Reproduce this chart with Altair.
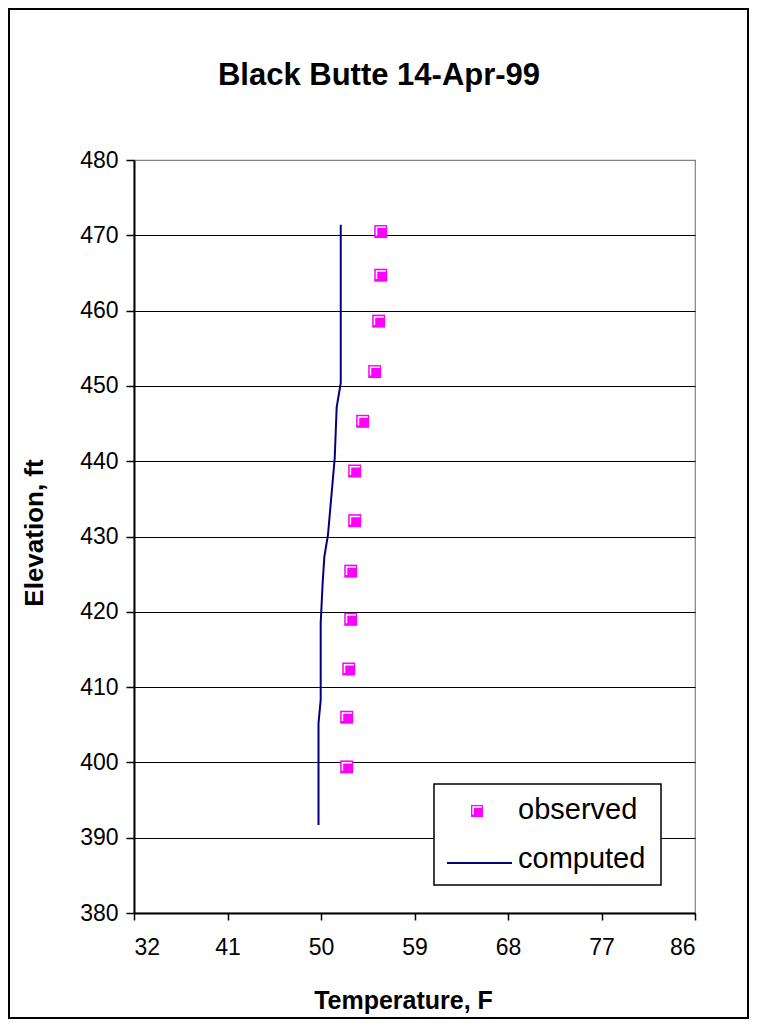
import altair as alt
import pandas as pd

# ---- data ----
obs_temp = [55.75, 55.75, 55.55, 55.17, 54.01, 53.24, 53.24, 52.86, 52.86, 52.67, 52.47, 52.47]
obs_elev = [470.5, 464.7, 458.6, 451.9, 445.3, 438.7, 432.1, 425.4, 419.0, 412.4, 406.0, 399.4]
comp_temp = [51.90, 51.90, 51.51, 51.32, 50.67, 50.32, 50.16, 49.97, 49.97, 49.76, 49.76]
comp_elev = [471.4, 450.4, 447.2, 440.4, 430.2, 427.3, 423.8, 418.5, 408.3, 405.2, 391.7]
x_ticks = [32, 41, 50, 59, 68, 77, 86]
y_ticks = [380, 390, 400, 410, 420, 430, 440, 450, 460, 470, 480]
legend_labels = ["observed", "computed"]
title_text = "Black Butte 14-Apr-99"

FONT = "Liberation Sans"
W, H = 561, 753

obs = pd.DataFrame({"temp": obs_temp, "elev": obs_elev})
comp = pd.DataFrame({"temp": comp_temp, "elev": comp_elev, "i": list(range(len(comp_temp)))})
one = pd.DataFrame({"a": [0]})

x_scale = alt.Scale(domain=[32, 86], nice=False, zero=False)
y_scale = alt.Scale(domain=[380, 480], nice=False, zero=False)

x_axis = alt.Axis(
    values=x_ticks, title="Temperature, F", grid=False,
    domainColor="black", domainWidth=2, tickColor="black", tickWidth=1.5, tickSize=7,
    labelFont=FONT, labelFontSize=23, labelColor="black", labelPadding=16,
    titleFont=FONT, titleFontSize=25, titleFontWeight="bold", titleColor="black",
    titleX=269, titleY=87, titleBaseline="middle",
)
y_axis = alt.Axis(
    values=y_ticks, title="Elevation, ft", grid=True,
    gridColor={"condition": {"test": "datum.value == 480", "value": "#808080"}, "value": "black"},
    gridWidth=1.2, gridOpacity=1,
    domainColor="black", domainWidth=2, tickColor="black", tickWidth=1.5, tickSize=8,
    labelFont=FONT, labelFontSize=23, labelColor="black", labelPadding=8,
    titleFont=FONT, titleFontSize=26, titleFontWeight="bold", titleColor="black",
    titleX=-100, titleY=H / 2 - 4, titleAngle=-90, titleAlign="center", titleBaseline="middle",
)

line = alt.Chart(comp).mark_line(color="#000080", strokeWidth=2).encode(
    x=alt.X("temp:Q", scale=x_scale, axis=x_axis),
    y=alt.Y("elev:Q", scale=y_scale, axis=y_axis),
    order="i:O",
)

points = alt.Chart(obs).mark_point(
    shape="square", filled=True, color="#FF00FF", size=169, opacity=1
).encode(x="temp:Q", y="elev:Q")

L_PATH = "M -0.65 0.6 L -0.65 -0.65 L 0.8 -0.65"
highlight = alt.Chart(obs).mark_point(
    shape=L_PATH, filled=False, stroke="white", strokeWidth=1.5, size=169, opacity=1
).encode(x="temp:Q", y="elev:Q")

# ---- title (as text so the frame does not push it away) ----
title = alt.Chart(one).mark_text(
    align="center", baseline="middle", font=FONT, fontSize=31, fontWeight="bold", color="black"
).encode(x=alt.value(245), y=alt.value(-84), text=alt.value(title_text))

# ---- legend (decoration) ----
leg_box = alt.Chart(one).mark_rect(fill="white", stroke="black", strokeWidth=1.5).encode(
    x=alt.value(300), x2=alt.value(527), y=alt.value(624), y2=alt.value(725)
)
leg_sq = alt.Chart(one).mark_point(
    shape="square", filled=True, color="#FF00FF", size=144, opacity=1
).encode(x=alt.value(343), y=alt.value(651))
leg_hl = alt.Chart(one).mark_point(
    shape=L_PATH, filled=False, stroke="white", strokeWidth=1.5, size=144, opacity=1
).encode(x=alt.value(343), y=alt.value(651))
leg_line = alt.Chart(one).mark_rule(color="#000080", strokeWidth=2).encode(
    x=alt.value(313), x2=alt.value(378), y=alt.value(703)
)
leg_t1 = alt.Chart(one).mark_text(
    align="left", baseline="middle", font=FONT, fontSize=29, color="black"
).encode(x=alt.value(384), y=alt.value(650), text=alt.value(legend_labels[0]))
leg_t2 = alt.Chart(one).mark_text(
    align="left", baseline="middle", font=FONT, fontSize=29, color="black"
).encode(x=alt.value(384), y=alt.value(699), text=alt.value(legend_labels[1]))

# outer frame
frame = alt.Chart(one).mark_rect(fill="transparent", stroke="black", strokeWidth=2).encode(
    x=alt.value(-125), x2=alt.value(614), y=alt.value(-151), y2=alt.value(858)
)

chart = alt.layer(
    frame, title, line, points, highlight, leg_box, leg_sq, leg_hl, leg_line, leg_t1, leg_t2
).properties(
    width=W, height=H,
    padding={"left": 126, "top": 152, "right": 54, "bottom": 107},
    autosize=alt.AutoSizeParams(type="none"),
    background="white",
).configure_view(stroke="#808080", strokeWidth=1.2)

chart.save("out.html", embed_options={"renderer": "svg", "actions": False})
